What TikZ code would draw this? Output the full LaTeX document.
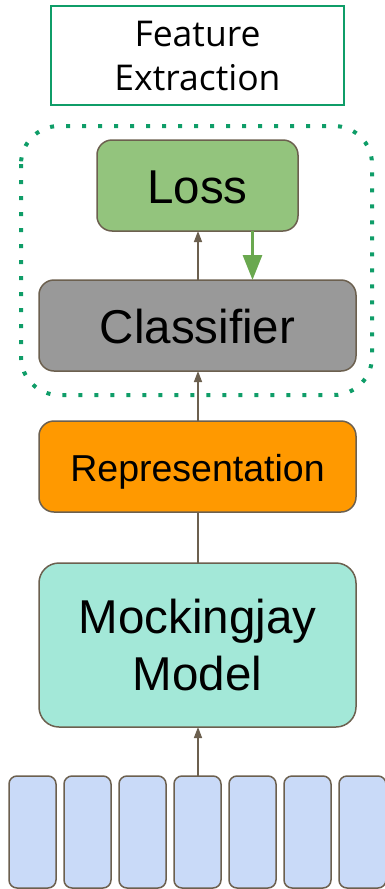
\documentclass[tikz,border=0pt]{standalone}
\usepackage{fontspec}
\setmainfont{Liberation Sans}
\newfontfamily\titlefont{Open Sans}
\usetikzlibrary{arrows.meta}

\definecolor{edgebrown}{HTML}{6C604F}
\definecolor{framegreen}{HTML}{0F9D68}
\definecolor{lossfill}{HTML}{93C47D}
\definecolor{backgreen}{HTML}{6AA84F}
\definecolor{clsfill}{HTML}{999999}
\definecolor{repfill}{HTML}{FF9900}
\definecolor{modelfill}{HTML}{A3E8D8}
\definecolor{tokfill}{HTML}{C9DAF8}

\tikzset{
  block/.style={draw=edgebrown, line width=1.5pt, rounded corners=15pt,
    inner sep=0pt, outer sep=0pt},
  token/.style={block, fill=tokfill, rounded corners=8pt,
    minimum width=47pt, minimum height=112pt},
  label/.style={anchor=base, inner sep=0pt, text=black},
  flow/.style={draw=edgebrown, line width=1.5pt,
    -{Triangle[length=11pt,width=8pt]}},
  plain/.style={draw=edgebrown, line width=1.5pt},
  grad/.style={draw=backgreen, line width=3pt,
    -{Triangle[length=25pt,width=19pt]}},
}

\begin{document}
\begin{tikzpicture}[x=1pt,y=-1pt]
  \useasboundingbox (0,0) rectangle (385,889);

  % title box
  \node[draw=framegreen, line width=2pt, inner sep=0pt,
        minimum width=293pt, minimum height=99pt] (title) at (197.5,55.5) {};
  \node[label, font=\titlefont\fontsize{35.5}{42}\selectfont] (titleA) at (197.5,46) {Feature};
  \node[label, font=\titlefont\fontsize{35.5}{42}\selectfont] (titleB) at (197.5,90.5) {Extraction};

  % dotted frame around the downstream head
  \draw[framegreen, line width=4pt, dash pattern=on 4pt off 12pt,
        rounded corners=38pt] (21,126) rectangle (372,395);

  % blocks
  \node[block, fill=lossfill, minimum width=201pt, minimum height=91pt] (loss) at (197.5,185.5) {};
  \node[block, fill=clsfill, minimum width=317pt, minimum height=91pt] (cls) at (197.5,325.5) {};
  \node[block, fill=repfill, minimum width=317pt, minimum height=91pt] (rep) at (197.5,466.5) {};
  \node[block, fill=modelfill, rounded corners=20pt, minimum width=317pt, minimum height=164pt] (model) at (197.5,645) {};

  \node[label, font=\fontsize{47.5}{56}\selectfont] (lossT) at (197.5,203) {Loss};
  \node[label, font=\fontsize{47.5}{56}\selectfont] (clsT) at (197.5,343) {Classifier};
  \node[label, font=\fontsize{37.5}{44}\selectfont] (repT) at (197.5,481) {Representation};
  \node[label, font=\fontsize{47.5}{56}\selectfont] (modelA) at (197.5,633) {Mockingjay};
  \node[label, font=\fontsize{47.5}{56}\selectfont] (modelB) at (197.5,690) {Model};

  % input frames
  \foreach \i in {0,...,6} {
    \node[token] (tok\i) at ({32.5+55*\i},832) {};
  }

  % connectors
  \coordinate (clsL) at ([xshift=0.5pt]cls.north);
  \coordinate (lossL) at ([xshift=0.5pt]loss.south);
  \draw[flow] (clsL) -- (lossL);
  \coordinate (lossR) at ([xshift=55pt]loss.south);
  \coordinate (clsR) at ([xshift=55pt]cls.north);
  \draw[grad] (lossR) -- (clsR);
  \draw[flow] ([xshift=0.5pt]rep.north) -- ([xshift=0.5pt]cls.south);
  \draw[plain] ([xshift=0.5pt]model.north) -- ([xshift=0.5pt]rep.south);
  \draw[flow] ([xshift=0.5pt]tok3.north) -- ([xshift=0.5pt]model.south);
\end{tikzpicture}
\end{document}
